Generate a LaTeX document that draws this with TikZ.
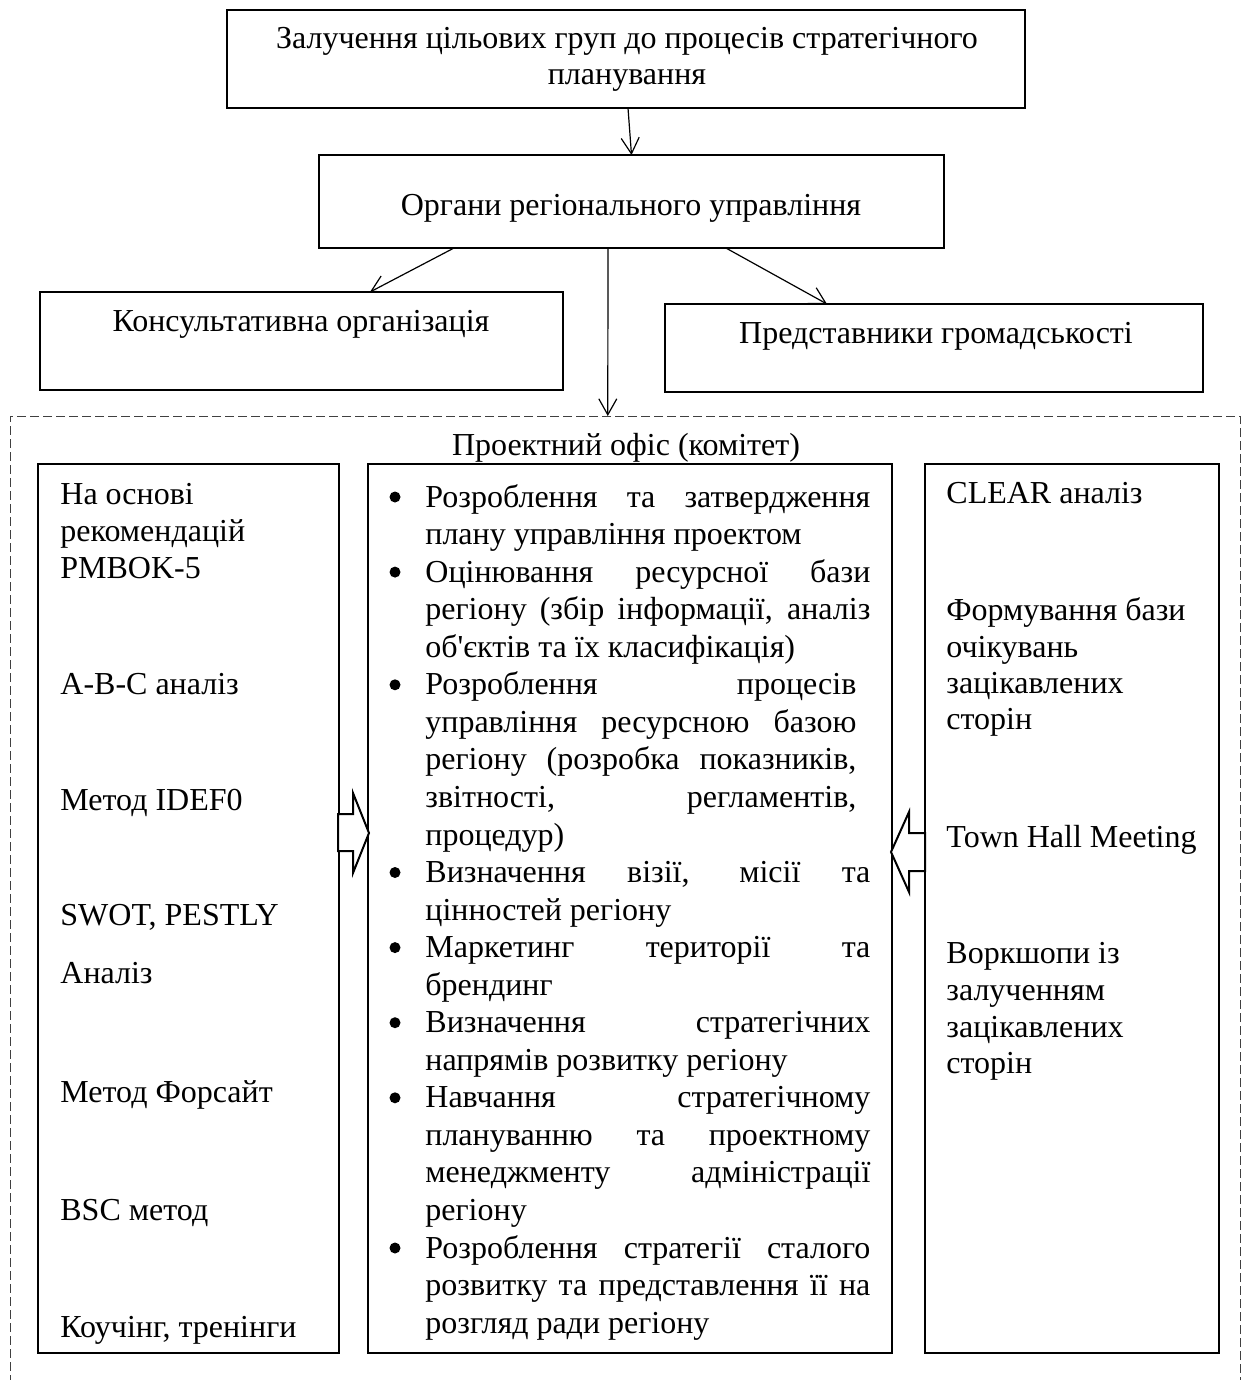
\documentclass[tikz,border=0pt]{standalone}
\usepackage{fontspec}
\defaultfontfeatures{}
\newfontfamily\diagserif{Liberation Serif}
\usetikzlibrary{arrows.meta,calc}
\newcommand\jl[1]{\makebox[222.5pt][s]{#1}}
\newcommand\jlb[1]{\makebox[215.5pt][s]{#1}}
\begin{document}
\begin{tikzpicture}[x=0.5pt,y=-0.5pt,
  font=\diagserif\fontsize{16}{18.8}\selectfont,
  box/.style={draw, line width=0.6pt, inner sep=0pt, outer sep=0pt, anchor=north west},
  dashbox/.style={draw=black!75, line width=0.5pt, dash pattern=on 4.5pt off 2pt, inner sep=0pt, outer sep=0pt, anchor=north west},
  txt/.style={inner sep=0pt, anchor=base},
  ltxt/.style={inner sep=0pt, anchor=base west},
  bul/.style={circle, fill=black, inner sep=0pt, minimum size=5.5pt},
  conn/.style={-{Straight Barb[length=8pt,width=9pt]}, line width=0.6pt},
  blockarrow/.style={draw, line width=1pt, line join=miter, fill=white}]
\useasboundingbox (0,0) rectangle (1241,1380);
\clip (0,0) rectangle (1241,1380);

% boxes
\node[box, minimum width=399pt, minimum height=49pt] (top) at (227,10) {};
\node[box, minimum width=312.5pt, minimum height=46.5pt] (org) at (319,155) {};
\node[box, minimum width=261.5pt, minimum height=49pt] (cons) at (40,292) {};
\node[box, minimum width=269pt, minimum height=44pt] (repr) at (665,304) {};
\node[dashbox, minimum width=615pt, minimum height=520pt] (office) at (10,416) {};
\node[box, minimum width=150.5pt, minimum height=444.5pt] (lcol) at (38,464) {};
\node[box, minimum width=262pt, minimum height=444.5pt] (ccol) at (368,464) {};
\node[box, minimum width=147pt, minimum height=444.5pt] (rcol) at (925,464) {};

% texts of the upper boxes
\node[txt] (t1) at (627,49) {Залучення цільових груп до процесів стратегічного};
\node[txt] (t2) at (627,85) {планування};
\node[txt] (t3) at (631,216) {Органи регіонального управління};
\node[txt] (t4) at (301,331) {Консультативна організація};
\node[txt] (t5) at (936,343) {Представники громадськості};
\node[txt] (t6) at (626,455) {Проектний офіс (комітет)};

% connectors
\draw[conn] ($(top.south west)!0.5025!(top.south east)$) -- ($(org.north west)!0.50!(org.north east)$);
\draw[conn] ($(org.south west)!0.216!(org.south east)$) -- ($(cons.north west)!0.631!(cons.north east)$);
\draw[conn] ($(org.south west)!0.651!(org.south east)$) -- ($(repr.north west)!0.301!(repr.north east)$);
\draw[conn] ($(org.south west)!0.4624!(org.south east)$) -- ($(office.north west)!0.486!(office.north east)$);

% block arrows
\draw[blockarrow] (338,814) -- (353,814) -- (353,793) -- (369,833) -- (353,873) -- (353,851) -- (338,851) -- cycle;
\draw[blockarrow] (925,833) -- (909,833) -- (909,812) -- (891,852) -- (909,892) -- (909,871) -- (925,871) -- cycle;

% left column
\node[ltxt] (l1) at (60,504) {На основі};
\node[ltxt] (l2) at (60,541) {рекомендацій};
\node[ltxt] (l3) at (60,578) {PMBOK-5};
\node[ltxt] (l4) at (60,694) {A-B-C аналіз};
\node[ltxt] (l5) at (60,810) {Метод IDEF0};
\node[ltxt] (l6) at (60,925) {SWOT, PESTLY};
\node[ltxt] (l7) at (60,983) {Аналіз};
\node[ltxt] (l8) at (60,1102) {Метод Форсайт};
\node[ltxt] (l9) at (60,1220) {BSC метод};
\node[ltxt] (l10) at (60,1337) {Коучінг, тренінги};

% right column
\node[ltxt] (r1) at (946,503) {CLEAR аналіз};
\node[ltxt] (r2) at (946,620) {Формування бази};
\node[ltxt] (r3) at (946,657) {очікувань};
\node[ltxt] (r4) at (946,693) {зацікавлених};
\node[ltxt] (r5) at (946,729) {сторін};
\node[ltxt] (r6) at (946,847) {Town Hall Meeting};
\node[ltxt] (r7) at (946,963) {Воркшопи із};
\node[ltxt] (r8) at (946,1000) {залученням};
\node[ltxt] (r9) at (946,1037) {зацікавлених};
\node[ltxt] (r10) at (946,1073) {сторін};

% centre column: bullets
\node[bul] (b1) at (395,497) {};
\node[bul] (b2) at (395,572.1) {};
\node[bul] (b3) at (395,684.8) {};
\node[bul] (b4) at (395,872.5) {};
\node[bul] (b5) at (395,947.6) {};
\node[bul] (b6) at (395,1022.7) {};
\node[bul] (b7) at (395,1097.8) {};
\node[bul] (b8) at (395,1248.0) {};

% centre column: lines
\node[ltxt] (c1) at (425,507.0) {\jl{Розроблення та затвердження}};
\node[ltxt] (c2) at (425,544.6) {плану управління проектом};
\node[ltxt] (c3) at (425,582.1) {\jl{Оцінювання ресурсної бази}};
\node[ltxt] (c4) at (425,619.7) {\jl{регіону (збір інформації, аналіз}};
\node[ltxt] (c5) at (425,657.2) {об'єктів та їх класифікація)};
\node[ltxt] (c6) at (425,694.8) {\jlb{Розроблення процесів}};
\node[ltxt] (c7) at (425,732.3) {\jlb{управління ресурсною базою}};
\node[ltxt] (c8) at (425,769.9) {\jlb{регіону (розробка показників,}};
\node[ltxt] (c9) at (425,807.4) {\jlb{звітності, регламентів,}};
\node[ltxt] (c10) at (425,845.0) {процедур)};
\node[ltxt] (c11) at (425,882.5) {\jl{Визначення візії, місії та}};
\node[ltxt] (c12) at (425,920.1) {цінностей регіону};
\node[ltxt] (c13) at (425,957.6) {\jl{Маркетинг території та}};
\node[ltxt] (c14) at (425,995.2) {брендинг};
\node[ltxt] (c15) at (425,1032.7) {\jl{Визначення стратегічних}};
\node[ltxt] (c16) at (425,1070.3) {напрямів розвитку регіону};
\node[ltxt] (c17) at (425,1107.8) {\jl{Навчання стратегічному}};
\node[ltxt] (c18) at (425,1145.4) {\jl{плануванню та проектному}};
\node[ltxt] (c19) at (425,1182.9) {\jl{менеджменту адміністрації}};
\node[ltxt] (c20) at (425,1220.5) {регіону};
\node[ltxt] (c21) at (425,1258.0) {\jl{Розроблення стратегії сталого}};
\node[ltxt] (c22) at (425,1295.6) {\jl{розвитку та представлення її на}};
\node[ltxt] (c23) at (425,1333.1) {розгляд ради регіону};
\end{tikzpicture}
\end{document}
